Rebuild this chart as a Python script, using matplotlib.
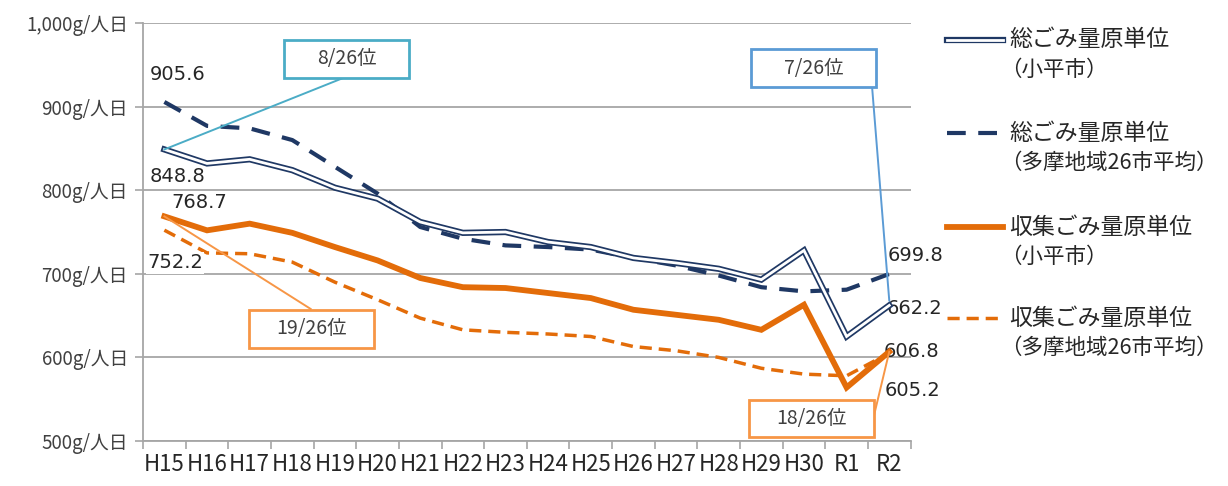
import matplotlib
matplotlib.use("Agg")
import matplotlib.pyplot as plt
from matplotlib.lines import Line2D
from matplotlib.patches import Rectangle

plt.rcParams['font.family'] = ['Noto Sans CJK JP', 'DejaVu Sans']

years = ['H15', 'H16', 'H17', 'H18', 'H19', 'H20', 'H21', 'H22', 'H23',
         'H24', 'H25', 'H26', 'H27', 'H28', 'H29', 'H30', 'R1', 'R2']
total_kodaira = [848.8, 832, 837, 824, 803, 790, 762, 749, 750,
                 738, 732, 719, 713, 706, 693, 728, 625, 662.2]
total_tama = [905.6, 877, 874, 860, 828, 796, 756, 742, 734,
              732, 729, 719, 710, 698, 684, 679, 681, 699.8]
coll_kodaira = [768.7, 752, 760, 749, 732, 716, 695, 684, 683,
                677, 671, 657, 651, 645, 633, 663, 564, 606.8]
coll_tama = [752.2, 725, 724, 714, 690, 669, 647, 633, 630,
             628, 625, 613, 608, 600, 587, 580, 578, 605.2]

labels = [('総ごみ量原単位', '（小平市）'), ('総ごみ量原単位', '（多摩地域26市平均）'),
          ('収集ごみ量原単位', '（小平市）'), ('収集ごみ量原単位', '（多摩地域26市平均）')]
ranks = ['8/26位', '7/26位', '19/26位', '18/26位']

navy = '#1f3864'
orange = '#e36c09'
grid = '#a6a6a6'

fig = plt.figure(figsize=(12.28, 4.86), dpi=100)
ax = fig.add_axes([0.1165, 0.0926, 0.625, 0.86])
x = list(range(len(years)))

ax.plot(x, coll_tama, color=orange, lw=2.5, ls=(0, (3.5, 2)), zorder=3)
ax.plot(x, coll_kodaira, color=orange, lw=4.2, zorder=4, solid_joinstyle='miter')
ax.plot(x, total_tama, color=navy, lw=3, ls=(0, (4.5, 3)), zorder=3)
ax.plot(x, total_kodaira, color=navy, lw=4.5, zorder=4, solid_joinstyle='miter')
ax.plot(x, total_kodaira, color='white', lw=2, zorder=5, solid_joinstyle='miter')

ax.set_xlim(-0.5, 17.5)
ax.set_ylim(500, 1000)
ax.set_yticks(range(500, 1001, 100))
ax.set_yticklabels(['500g/人日', '600g/人日', '700g/人日', '800g/人日', '900g/人日', '1,000g/人日'],
                   fontsize=13.5, color='#404040')
ax.set_xticks(x)
ax.set_xticklabels(years, fontsize=16, color='#262626')
ax.set_xticks([i - 0.5 for i in range(19)], minor=True)
ax.tick_params(axis='x', which='major', length=0, pad=9)
ax.tick_params(axis='x', which='minor', length=6, color=grid, width=1.2)
ax.tick_params(axis='y', length=6, color=grid, width=1.2, pad=5)
ax.grid(axis='y', color=grid, lw=1.3)
ax.set_axisbelow(True)
for s in ['top', 'right']:
    ax.spines[s].set_visible(False)
for s in ['left', 'bottom']:
    ax.spines[s].set_color(grid)
    ax.spines[s].set_linewidth(1.3)

# value labels
vfont = dict(fontsize=14, color='#262626', family=['DejaVu Sans'])
ax.text(-0.34, 938, f'{total_tama[0]:.1f}', ha='left', va='center', **vfont)
ax.text(-0.34, 817, f'{total_kodaira[0]:.1f}', ha='left', va='center', **vfont)
ax.text(0.17, 785, f'{coll_kodaira[0]:.1f}', ha='left', va='center', **vfont)
ax.text(-0.41, 713, f'{coll_tama[0]:.1f}', ha='left', va='center',
        bbox=dict(fc='white', ec='none', pad=1), zorder=6, **vfont)
ax.text(16.96, 722, f'{total_tama[-1]:.1f}', ha='left', va='center', clip_on=False, **vfont)
ax.text(16.94, 658, f'{total_kodaira[-1]:.1f}', ha='left', va='center', clip_on=False, **vfont)
ax.text(16.87, 606.5, f'{coll_kodaira[-1]:.1f}', ha='left', va='center', clip_on=False, **vfont)
ax.text(16.9, 561, f'{coll_tama[-1]:.1f}', ha='left', va='center', clip_on=False, **vfont)

# rank boxes with leader lines
boxes = [
    (ranks[0], 4.27, 957, '#4bacc6', (4.18, 934), (0, total_kodaira[0])),
    (ranks[1], 15.22, 946, '#5b9bd5', (16.6, 922), (17, total_kodaira[-1] + 6)),
    (ranks[2], 3.45, 634, '#f79646', (3.43, 658), (0, coll_kodaira[0])),
    (ranks[3], 15.17, 527, '#f79646', (16.64, 530), (17, coll_kodaira[-1])),
]
w, h = 2.93, 45
for txt, cx, cy, col, p0, p1 in boxes:
    ax.plot([p0[0], p1[0]], [p0[1], p1[1]], color=col, lw=1.4, zorder=6, clip_on=False)
    ax.add_patch(Rectangle((cx - w / 2, cy - h / 2), w, h, fc='white', ec=col, lw=2,
                           zorder=7, clip_on=False))
    ax.text(cx, cy, txt, ha='center', va='center', fontsize=14, color='#404040', zorder=8)

# legend drawn by hand
W, H = 1228, 486
rows = [40, 133, 227, 318]
for i, y in enumerate(rows):
    yy = 1 - y / H
    xs = [947 / W, 1003 / W]
    if i == 0:
        fig.add_artist(Line2D(xs, [yy, yy], color=navy, lw=4.5))
        fig.add_artist(Line2D(xs, [yy, yy], color='white', lw=2))
    elif i == 1:
        fig.add_artist(Line2D(xs, [yy, yy], color=navy, lw=3, ls=(0, (4.5, 3))))
    elif i == 2:
        fig.add_artist(Line2D(xs, [yy, yy], color=orange, lw=4.2))
    else:
        fig.add_artist(Line2D(xs, [yy, yy], color=orange, lw=2.5, ls=(0, (3.5, 2))))
    fig.text(1009 / W, yy, labels[i][0], ha='left', va='center', fontsize=16.5, color='#262626')
    fig.text(1000 / W, yy - 30 / H, labels[i][1], ha='left', va='center', fontsize=15.5,
             color='#262626')

fig.savefig('out.png', dpi=100)
